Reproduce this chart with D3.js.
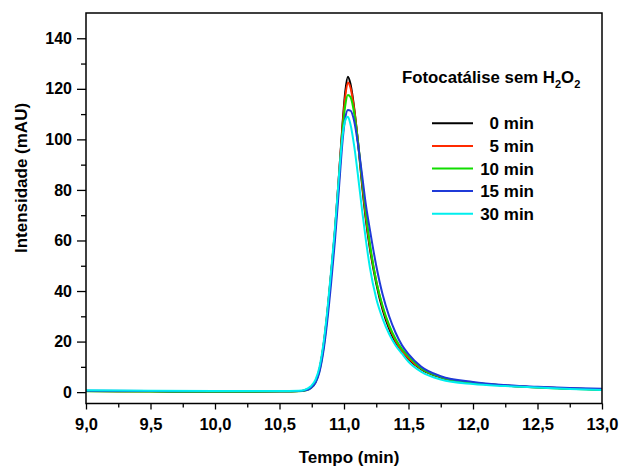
<!DOCTYPE html>
<html>
<head>
<meta charset="utf-8">
<script src="https://cdn.jsdelivr.net/npm/d3@7"></script>
<style>
  html, body { margin: 0; padding: 0; background: #fff; }
  svg { display: block; }
  text { font-family: Arial, "Liberation Sans", sans-serif; font-weight: bold; fill: #000; }
</style>
</head>
<body>
<svg id="chart" width="622" height="467"></svg>
<script>
// Retention time grid (min)
const times = [9.0, 9.5, 10.0, 10.5, 10.65, 10.7, 10.74, 10.78, 10.81, 10.84, 10.87, 10.9,
  10.93, 10.96, 10.99, 11.01, 11.03, 11.05, 11.08, 11.11, 11.14, 11.17, 11.2, 11.25,
  11.3, 11.35, 11.4, 11.45, 11.5, 11.6, 11.75, 12.0, 12.25, 12.5, 12.75, 13.0];

// Detector signal (mAU) for each irradiation time
const min0 = [0.4, 0.3, 0.2, 0.3, 0.4, 0.8, 1.8, 4.3, 9, 18, 31, 47, 64, 85, 107, 119, 124.8, 122,
  112, 98, 82, 68, 57, 43, 32.5, 25, 19.5, 15.8, 13, 9, 5.8, 3.6, 2.6, 1.9, 1.4, 1.0];
const min5 = [0.4, 0.3, 0.2, 0.3, 0.4, 0.8, 1.8, 4.3, 9, 18, 31, 47, 64, 85, 106, 117, 122.5, 120.5,
  111.5, 98.5, 83, 69, 58, 44, 33.5, 26, 20.3, 16.3, 13.4, 9.2, 6.0, 3.7, 2.6, 1.9, 1.4, 1.0];
const min10 = [0.3, 0.2, 0.1, 0.2, 0.3, 0.6, 1.5, 4.0, 8.5, 17, 30, 46, 63, 83, 104, 113.5, 117.6, 116.8,
  110, 98.5, 84, 71, 59, 44, 34, 26.5, 21, 17, 14.2, 9.4, 6.0, 3.7, 2.6, 1.8, 1.3, 0.8];
const min15 = [0.5, 0.4, 0.3, 0.3, 0.4, 0.7, 1.5, 3.8, 8, 16, 28, 43, 60, 80, 100, 108.5, 111.6, 111.4,
  107, 97.5, 86, 74, 64.5, 50, 38.5, 30, 23.5, 18.5, 15, 10, 6.3, 4.0, 2.8, 2.1, 1.6, 1.3];
const min30 = [0.7, 0.5, 0.4, 0.4, 0.5, 1.0, 2.2, 5, 10, 19, 32, 48, 65, 85, 102, 107.5, 109, 106,
  97, 85, 72, 60, 49.5, 37, 29, 23, 18.5, 15.2, 12, 8.0, 5.0, 3.2, 2.4, 1.8, 1.2, 0.8];

const seriesNames = ["0 min", "5 min", "10 min", "15 min", "30 min"];
const seriesColors = ["#000000", "#ff2a00", "#11dd00", "#1f3ad8", "#00eeee"];
const seriesValues = [min0, min5, min10, min15, min30];

const xTicks = [9.0, 9.5, 10.0, 10.5, 11.0, 11.5, 12.0, 12.5, 13.0];
const yTicks = [0, 20, 40, 60, 80, 100, 120, 140];

const svg = d3.select("#chart");
const plotL = 86, plotR = 602, plotT = 13, plotB = 403.5;

const x = d3.scaleLinear().domain([9, 13]).range([plotL, plotR]);
const y = d3.scaleLinear().domain([-4.5, 150]).range([plotB, plotT]);

const commaFmt = d => d3.format(".1f")(d).replace(".", ",");

// Curves
const line = d3.line()
  .x(d => x(d[0]))
  .y(d => y(d[1]))
  .curve(d3.curveMonotoneX);

svg.append("clipPath").attr("id", "plotclip")
  .append("rect").attr("x", plotL).attr("y", plotT).attr("width", plotR - plotL).attr("height", plotB - plotT);

const curves = svg.append("g").attr("clip-path", "url(#plotclip)");
seriesValues.forEach((vals, i) => {
  curves.append("path")
    .datum(times.map((t, j) => [t, vals[j]]))
    .attr("fill", "none")
    .attr("stroke", seriesColors[i])
    .attr("stroke-width", 2)
    .attr("stroke-linejoin", "round")
    .attr("d", line);
});

// Frame
svg.append("rect")
  .attr("x", plotL).attr("y", plotT)
  .attr("width", plotR - plotL).attr("height", plotB - plotT)
  .attr("fill", "none").attr("stroke", "#000").attr("stroke-width", 1.5);

// X axis
const xMajor = svg.append("g").attr("transform", `translate(0,${plotB})`)
  .call(d3.axisBottom(x).tickValues(xTicks).tickFormat(commaFmt).tickSize(6).tickPadding(9));
svg.append("g").attr("transform", `translate(0,${plotB})`)
  .call(d3.axisBottom(x).tickValues(d3.range(9.25, 13, 0.5)).tickFormat("").tickSize(4));
xMajor.selectAll(".tick text").attr("font-size", 16.5);

// Y axis
const yMajor = svg.append("g").attr("transform", `translate(${plotL},0)`)
  .call(d3.axisLeft(y).tickValues(yTicks).tickFormat(d3.format("d")).tickSize(9).tickPadding(5));
svg.append("g").attr("transform", `translate(${plotL},0)`)
  .call(d3.axisLeft(y).tickValues(d3.range(10, 140, 20)).tickFormat("").tickSize(5));
yMajor.selectAll(".tick text").attr("font-size", 16);

svg.selectAll(".domain").remove();
svg.selectAll(".tick line").attr("stroke", "#000").attr("stroke-width", 1.3);
svg.selectAll(".tick text").attr("font-family", "Arial, 'Liberation Sans', sans-serif")
  .attr("font-weight", "bold").attr("fill", "#000");

// Axis titles
svg.append("text")
  .attr("x", 349).attr("y", 462.5)
  .attr("text-anchor", "middle").attr("font-size", 17)
  .text("Tempo (min)");
svg.append("text")
  .attr("transform", "translate(27,178) rotate(-90)")
  .attr("text-anchor", "middle").attr("font-size", 17)
  .text("Intensidade (mAU)");

// Legend
const legendTitle = svg.append("text").attr("x", 402).attr("y", 83).attr("font-size", 16.8);
legendTitle.append("tspan").text("Fotocatálise sem H");
legendTitle.append("tspan").attr("font-size", 11).attr("dy", 5).text("2");
legendTitle.append("tspan").attr("dy", -5).text("O");
legendTitle.append("tspan").attr("font-size", 11).attr("dy", 5).text("2");

const legend = svg.append("g");
seriesNames.forEach((name, i) => {
  const ly = 123.3 + i * 22.6;
  legend.append("line")
    .attr("x1", 432).attr("x2", 473).attr("y1", ly).attr("y2", ly)
    .attr("stroke", seriesColors[i]).attr("stroke-width", 2);
  legend.append("text")
    .attr("x", 534).attr("y", ly + 6)
    .attr("text-anchor", "end").attr("font-size", 17)
    .text(name);
});
</script>
</body>
</html>
